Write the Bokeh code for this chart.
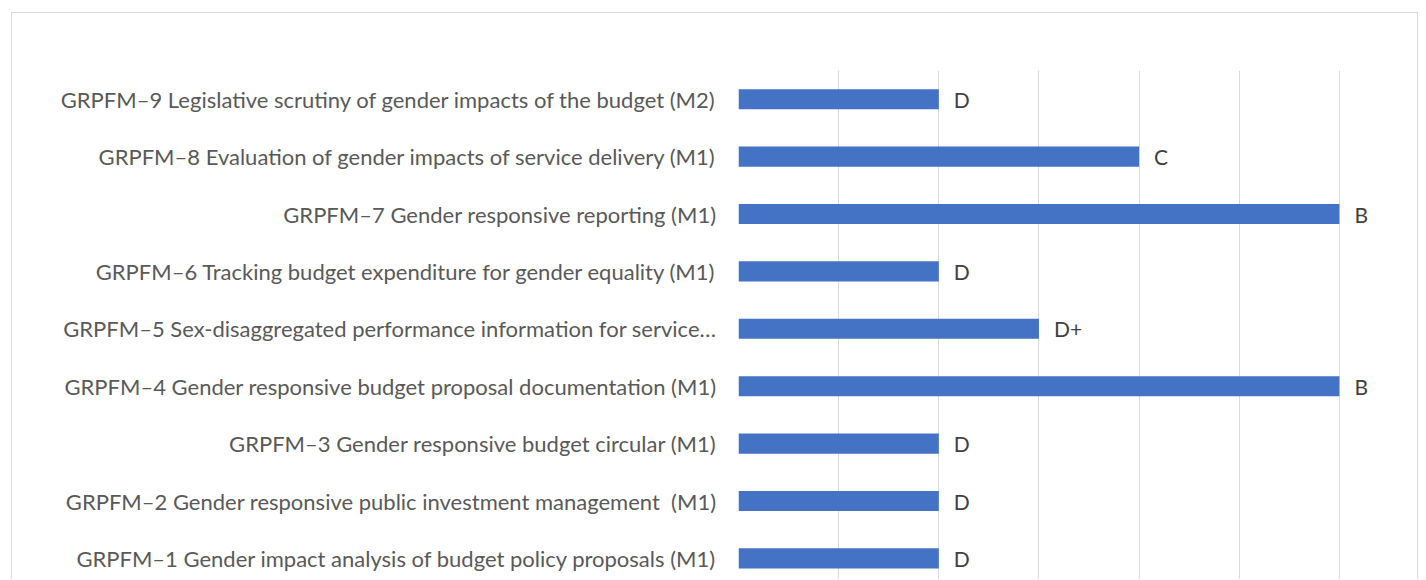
from bokeh.plotting import figure
from bokeh.models import ColumnDataSource, Range1d, FixedTicker, LabelSet
from bokeh.core.properties import value
from bokeh.embed import file_html
from bokeh.resources import INLINE

categories = [
    "GRPFM–1 Gender impact analysis of budget policy proposals (M1)",
    "GRPFM–2 Gender responsive public investment management \u00a0(M1)",
    "GRPFM–3 Gender responsive budget circular (M1)",
    "GRPFM–4 Gender responsive budget proposal documentation (M1)",
    "GRPFM–5 Sex-disaggregated performance information for service…",
    "GRPFM–6 Tracking budget expenditure for gender equality (M1)",
    "GRPFM–7 Gender responsive reporting (M1)",
    "GRPFM–8 Evaluation of gender impacts of service delivery (M1)",
    "GRPFM–9 Legislative scrutiny of gender impacts of the budget (M2)",
]
values = [2, 2, 2, 6, 3, 2, 6, 4, 2]
grades = ["D", "D", "D", "B", "D+", "D", "B", "C", "D"]
positions = list(range(1, len(categories) + 1))

FONT = "Lato"
FSIZE = "22px"

src = ColumnDataSource(dict(y=positions, v=values, g=grades, name=categories))

p = figure(
    width=1407, height=567,
    x_range=Range1d(0, 6.8), y_range=Range1d(0.615, 9.5),
    output_backend="svg", toolbar_location=None,
    min_border_left=726, min_border_top=57, min_border_right=0, min_border_bottom=0,
)
p.styles = {"border-top": "1px solid #d9d9d9", "border-left": "1px solid #d9d9d9",
            "border-right": "1px solid #d9d9d9", "margin-left": "11px", "margin-top": "12px"}
p.outline_line_color = None

p.hbar(y="y", right="v", left=0, height=0.35, source=src, fill_color="#4472C4",
       line_color=None)

labels = LabelSet(x="v", y="y", text="g", source=src, x_offset=15,
                  text_baseline="middle", text_align="left",
                  text_font=value(FONT), text_font_size="21px", text_color="#404040")
p.add_layout(labels)

p.xaxis.visible = False
p.xgrid.ticker = FixedTicker(ticks=[0, 1, 2, 3, 4, 5, 6])
p.xgrid.grid_line_color = "#d9d9d9"
p.xgrid.grid_line_width = 1
p.ygrid.visible = False

yax = p.yaxis[0]
yax.ticker = FixedTicker(ticks=positions)
yax.major_label_overrides = {i: c for i, c in zip(positions, categories)}
yax.axis_line_color = None
yax.major_tick_line_color = None
yax.minor_tick_line_color = None
yax.major_label_standoff = 16
yax.major_label_text_font = FONT
yax.major_label_text_font_size = FSIZE
yax.major_label_text_color = "#595959"

open("out.html", "w").write(file_html(p, INLINE))
